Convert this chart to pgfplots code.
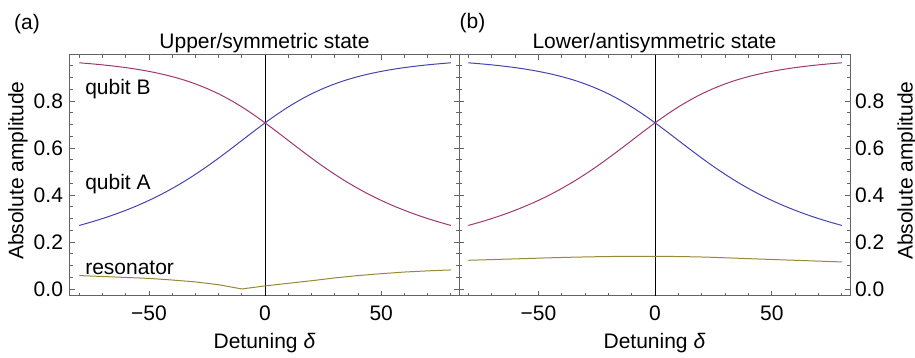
\documentclass[border=0pt]{standalone}
\usepackage{fontspec}
\setmainfont{Liberation Sans}
\usepackage{pgfplots}
\usepackage{pgfplotstable}
\pgfplotsset{compat=1.18}
\definecolor{mmablue}{RGB}{68,68,178}
\definecolor{mmared}{RGB}{160,55,115}
\definecolor{mmaolive}{RGB}{153,136,52}
\definecolor{framegray}{RGB}{100,100,100}

\pgfplotstableread{
d A B
-80 0.2704 0.9628
-75 0.2844 0.9587
-70 0.2997 0.9540
-65 0.3164 0.9486
-60 0.3348 0.9423
-55 0.3549 0.9349
-50 0.3770 0.9262
-45 0.4012 0.9160
-40 0.4278 0.9039
-35 0.4566 0.8897
-30 0.4880 0.8729
-25 0.5215 0.8532
-20 0.5571 0.8305
-15 0.5942 0.8043
-10 0.6321 0.7749
-5 0.6701 0.7423
0 0.7071 0.7071
5 0.7423 0.6701
10 0.7749 0.6321
15 0.8043 0.5942
20 0.8305 0.5571
25 0.8532 0.5215
30 0.8729 0.4880
35 0.8897 0.4566
40 0.9039 0.4278
45 0.9160 0.4012
50 0.9262 0.3770
55 0.9349 0.3549
60 0.9423 0.3348
65 0.9486 0.3164
70 0.9540 0.2997
75 0.9587 0.2844
80 0.9628 0.2704
}\qubits

\pgfplotstableread{
d r
-80 0.057
-70 0.053
-60 0.049
-50 0.045
-40 0.038
-30 0.030
-20 0.018
-10 0.000
0 0.013
10 0.024
20 0.035
30 0.047
40 0.057
50 0.065
60 0.072
70 0.077
80 0.081
}\resA

\pgfplotstableread{
d r
-80 0.122
-60 0.128
-40 0.134
-20 0.138
0 0.139
20 0.136
40 0.129
60 0.122
80 0.115
}\resB

\pgfplotsset{
  every axis title shift=0pt,
  mmastyle/.style={
    scale only axis,
    height=120.5pt,
    xmin=-84, xmax=83.5,
    ymin=-0.03, ymax=0.996,
    axis line style={framegray, line width=0.5pt},
    every tick/.style={framegray, line width=0.4pt},
    tick align=inside,
    major tick length=2.4pt,
    minor tick length=1.4pt,
    xtick={-50,0,50},
    xticklabels={−50,0,50},
    minor xtick={-80,-70,-60,-40,-30,-20,-10,10,20,30,40,60,70,80},
    ytick={0,0.2,0.4,0.6,0.8},
    yticklabels={0.0,0.2,0.4,0.6,0.8},
    minor ytick={0.05,0.1,0.15,0.25,0.3,0.35,0.45,0.5,0.55,0.65,0.7,0.75,0.85,0.9,0.95},
    /pgf/number format/assume math mode=true,
    font=\fontsize{10.5}{12}\selectfont,
    ticklabel style={font=\fontsize{10.5}{12}\selectfont, black},
    xticklabel style={yshift=-1.5pt},
    xlabel={Detuning \textit{δ}},
    xlabel style={at={(rel axis cs:0.5,0)}, anchor=center, yshift=-23.5pt},
    title style={at={(rel axis cs:0.5,1)}, anchor=center, yshift=6pt},
    clip=true,
  }
}

\begin{document}
\begin{tikzpicture}
\useasboundingbox (0,0) rectangle (457.5pt,179pt);
\begin{axis}[mmastyle,
  at={(35pt,31pt)}, anchor=south west,
  width=194.5pt,
  title={Upper/symmetric state},
  ylabel={Absolute amplitude},
  ylabel style={at={(axis description cs:-0.134,0.52)}, anchor=center},
]
\addplot[black, line width=0.5pt] coordinates {(0,-0.03) (0,0.996)};
\addplot[mmablue, line width=0.5pt, smooth] table[x=d, y=A] {\qubits};
\addplot[mmared, line width=0.5pt, smooth] table[x=d, y=B] {\qubits};
\addplot[mmaolive, line width=0.5pt] table[x=d, y=r] {\resA};
\node[anchor=west, inner sep=0pt] at (axis cs:-77.6,0.851) {qubit B};
\node[anchor=west, inner sep=0pt] at (axis cs:-77.6,0.447) {qubit A};
\node[anchor=west, inner sep=0pt] at (axis cs:-77.6,0.0915) {resonator};
\end{axis}
\begin{axis}[mmastyle,
  at={(229.5pt,31pt)}, anchor=south west,
  width=195.5pt,
  title={Lower/antisymmetric state},
  yticklabel pos=right,
  yticklabel style={xshift=-1pt},
  ylabel={Absolute amplitude},
  ylabel style={at={(axis description cs:1.146,0.52)}, anchor=center, rotate=0},
]
\addplot[black, line width=0.5pt] coordinates {(0,-0.03) (0,0.996)};
\addplot[mmablue, line width=0.5pt, smooth] table[x=d, y=B] {\qubits};
\addplot[mmared, line width=0.5pt, smooth] table[x=d, y=A] {\qubits};
\addplot[mmaolive, line width=0.5pt, smooth] table[x=d, y=r] {\resB};
\end{axis}
\node at (13.5pt,167pt) {\fontsize{10.5}{12}\selectfont (a)};
\node at (236.25pt,167.5pt) {\fontsize{10.5}{12}\selectfont (b)};
\end{tikzpicture}
\end{document}
